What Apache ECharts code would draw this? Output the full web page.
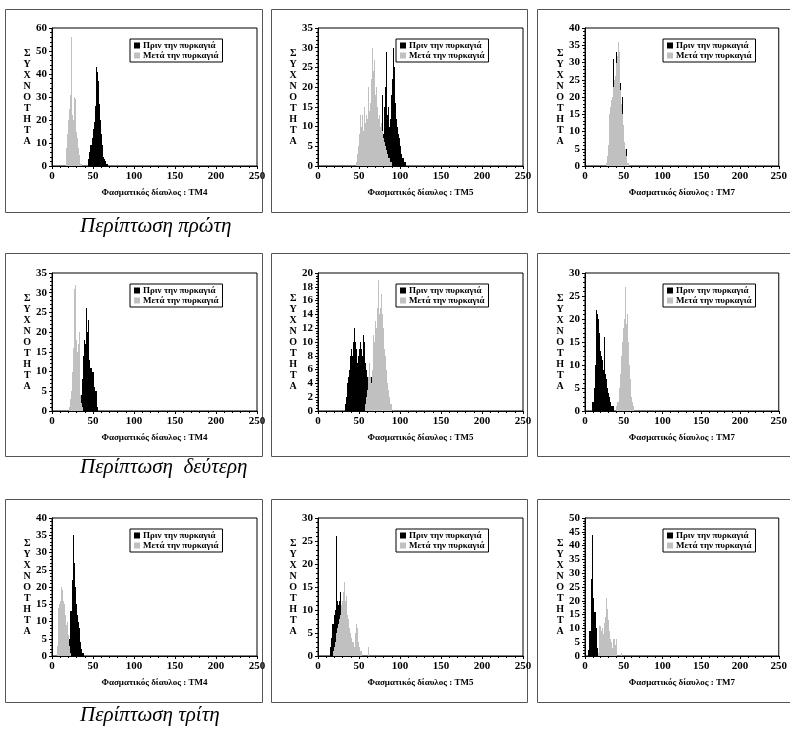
<!DOCTYPE html>
<html>
<head>
<meta charset="utf-8">
<script src="https://cdn.jsdelivr.net/npm/echarts@6/dist/echarts.min.js"></script>
<style>
  html, body { margin: 0; padding: 0; background: #fff; }
  #main { width: 790px; height: 729px; }
</style>
</head>
<body>
<div id="main"></div>
<script>
  // κανάλια / περιπτώσεις
  const bands = ['TM4', 'TM5', 'TM7'];
  const cases = ['Περίπτωση πρώτη', 'Περίπτωση  δεύτερη', 'Περίπτωση τρίτη'];
  const legendNames = ['Πριν την πυρκαγιά', 'Μετά την πυρκαγιά'];
  const yTitle = 'ΣΥΧΝΟΤΗΤΑ';

  // άξονες (σειρά: περίπτωση 1 TM4, TM5, TM7, περίπτωση 2 ..., περίπτωση 3 ...)
  const xMax = 250;
  const xStep = 50;
  const yMax = [60, 35, 40, 35, 20, 30, 40, 30, 50];
  const yStep = [10, 5, 5, 5, 2, 5, 5, 5, 5];

  // Περίπτωση πρώτη
  const c1_tm4_before_from = 44;
  const c1_tm4_before = [1, 3, 6, 9, 9, 12, 15, 16, 19, 26, 43, 41, 37, 28, 27, 20, 14, 9, 6, 4, 3, 2, 1, 1, 1];
  const c1_tm4_after_from = 17;
  const c1_tm4_after = [2, 8, 14, 20, 25, 31, 30, 56, 22, 20, 30, 29, 20, 15, 12, 8, 5, 3, 1, 1];

  const c1_tm5_before_from = 70;
  const c1_tm5_before = [1, 2, 3, 4, 5, 6, 7, 8, 12, 18, 8, 15, 20, 14, 29, 13, 15, 10, 12, 18, 13, 22, 30, 25, 16, 14, 12, 10, 8, 7, 5, 4, 3, 2, 2, 1, 1];
  const c1_tm5_after_from = 47;
  const c1_tm5_after = [1, 3, 5, 8, 6, 13, 10, 13, 9, 12, 15, 11, 13, 12, 17, 20, 14, 16, 22, 30, 19, 24, 27, 18, 20, 15, 14, 12, 13, 10, 11, 9, 8, 7, 6, 5, 4, 3, 3, 2, 2, 1, 1, 1];

  const c1_tm7_before_from = 30;
  const c1_tm7_before = [2, 4, 7, 10, 13, 16, 20, 31, 24, 26, 25, 33, 30, 28, 22, 20, 24, 17, 20, 10, 8, 6, 4, 3, 5, 1];
  const c1_tm7_after_from = 28;
  const c1_tm7_after = [1, 3, 6, 10, 15, 17, 19, 20, 22, 23, 25, 26, 28, 30, 32, 36, 33, 28, 22, 18, 15, 12, 9, 7, 5, 3, 2, 1, 1];

  // Περίπτωση δεύτερη
  const c2_tm4_before_from = 33;
  const c2_tm4_before = [1, 2, 3, 4, 8, 14, 15, 18, 17, 26, 20, 23, 16, 13, 11, 11, 10, 10, 8, 6, 5, 5, 1];
  const c2_tm4_after_from = 21;
  const c2_tm4_after = [1, 1, 3, 5, 10, 16, 31, 30, 32, 18, 15, 17, 20, 8, 4, 2, 1];

  const c2_tm5_before_from = 34;
  const c2_tm5_before = [1, 2, 4, 5, 6, 7, 8, 9, 8, 10, 11, 12, 10, 9, 7, 8, 9, 8, 10, 9, 8, 11, 10, 8, 7, 6, 5, 4, 3, 3, 4, 5, 2, 1];
  const c2_tm5_after_from = 58;
  const c2_tm5_after = [1, 2, 3, 4, 5, 7, 5, 4, 6, 8, 11, 10, 13, 12, 13, 15, 19, 14, 15, 17, 14, 11, 12, 9, 8, 6, 5, 4, 3, 2, 1, 1];

  const c2_tm7_before_from = 10;
  const c2_tm7_before = [2, 2, 5, 7, 10, 22, 21, 20, 17, 15, 13, 12, 11, 10, 9, 16, 8, 7, 6, 5, 4, 3, 2, 2, 1, 1, 1, 1];
  const c2_tm7_after_from = 41;
  const c2_tm7_after = [1, 2, 2, 3, 5, 8, 12, 15, 16, 18, 20, 27, 16, 19, 21, 15, 10, 7, 5, 3, 2, 1, 1];

  // Περίπτωση τρίτη
  const c3_tm4_before_from = 20;
  const c3_tm4_before = [2, 5, 12, 13, 13, 22, 35, 27, 20, 15, 15, 12, 10, 8, 6, 4, 2, 1, 1];
  const c3_tm4_after_from = 7;
  const c3_tm4_after = [3, 14, 15, 16, 18, 20, 19, 16, 15, 12, 9, 8, 10, 6, 3, 1];

  const c3_tm5_before_from = 15;
  const c3_tm5_before = [2, 4, 4, 7, 7, 9, 10, 26, 18, 12, 11, 12, 14, 10, 5, 2];
  const c3_tm5_after_from = 19;
  const c3_tm5_after = [1, 2, 3, 4, 5, 6, 7, 8, 9, 10, 11, 12, 14, 16, 12, 11, 13, 9, 8, 6, 5, 5, 4, 3, 3, 2, 2, 5, 7, 6, 3, 2, 1, 1, 1, 0, 0, 0, 0, 0, 0, 0, 2];

  const c3_tm7_before_from = 5;
  const c3_tm7_before = [2, 9, 9, 28, 44, 30, 21, 16, 16, 10, 10, 3, 1];
  const c3_tm7_after_from = 17;
  const c3_tm7_after = [1, 2, 11, 11, 9, 10, 7, 8, 12, 14, 21, 17, 17, 13, 9, 9, 6, 5, 3, 6, 3, 6, 4, 6, 2, 0, 0, 0, 0, 0, 1];

  const panels = [
    [c1_tm4_before_from, c1_tm4_before, c1_tm4_after_from, c1_tm4_after],
    [c1_tm5_before_from, c1_tm5_before, c1_tm5_after_from, c1_tm5_after],
    [c1_tm7_before_from, c1_tm7_before, c1_tm7_after_from, c1_tm7_after],
    [c2_tm4_before_from, c2_tm4_before, c2_tm4_after_from, c2_tm4_after],
    [c2_tm5_before_from, c2_tm5_before, c2_tm5_after_from, c2_tm5_after],
    [c2_tm7_before_from, c2_tm7_before, c2_tm7_after_from, c2_tm7_after],
    [c3_tm4_before_from, c3_tm4_before, c3_tm4_after_from, c3_tm4_after],
    [c3_tm5_before_from, c3_tm5_before, c3_tm5_after_from, c3_tm5_after],
    [c3_tm7_before_from, c3_tm7_before, c3_tm7_after_from, c3_tm7_after]
  ];

  const colLeft = [52, 318, 585];
  const rowTop = [28, 273, 518];
  const plotW = 205, plotH = 138;
  const boxX = [5, 271, 537];
  const boxW = [257, 256, 260];
  const boxY = [9, 253, 499];
  const boxH = 203;
  const font = 'Liberation Serif';
  const colors = ['#000000', '#c0c0c0'];

  const toPairs = (from, arr) => arr.map((v, i) => [from + i, v]).filter(d => d[1] > 0);

  // ιστόγραμμα: κάθε ψηφιακή τιμή καλύπτει [x-0.5, x+0.5], στρογγυλεμένο σε ακέραια pixel
  function histItem(color) {
    return function (params, api) {
      const x = api.value(0), y = api.value(1);
      const a = api.coord([x - 0.5, y]);
      const b = api.coord([x + 0.5, 0]);
      const x0 = Math.round(a[0]);
      const x1 = Math.max(Math.round(b[0]), x0 + 1);
      const y0 = Math.round(a[1]);
      const y1 = Math.round(b[1]);
      return {
        type: 'rect',
        shape: { x: x0, y: y0, width: x1 - x0, height: y1 - y0 },
        style: { fill: color }
      };
    };
  }

  const grid = [], xAxis = [], yAxis = [], series = [], legend = [], title = [], graphic = [];

  panels.forEach((p, k) => {
    const r = Math.floor(k / 3), c = k % 3;
    grid.push({
      left: colLeft[c], top: rowTop[r], width: plotW, height: plotH,
      show: true, borderColor: '#000', borderWidth: 1, backgroundColor: '#fff'
    });
    xAxis.push({
      type: 'value', gridIndex: k, min: 0, max: xMax, interval: xStep,
      name: 'Φασματικός δίαυλος : ' + bands[c],
      nameLocation: 'middle', nameGap: 22,
      nameTextStyle: { fontFamily: font, fontSize: 9, fontWeight: 'bold', color: '#000' },
      axisLine: { lineStyle: { color: '#000' } },
      axisTick: { length: 3, lineStyle: { color: '#000' } },
      minorTick: { show: true, splitNumber: 5, length: 2, lineStyle: { color: '#000' } },
      splitLine: { show: false },
      axisLabel: { fontFamily: font, fontSize: 11, fontWeight: 'bold', color: '#000', margin: 5 }
    });
    yAxis.push({
      type: 'value', gridIndex: k, min: 0, max: yMax[k], interval: yStep[k],
      name: yTitle.split('').join('\n'),
      nameLocation: 'middle', nameRotate: 0, nameGap: 23,
      nameTextStyle: { fontFamily: font, fontSize: 10, fontWeight: 'bold', color: '#000',
        lineHeight: 11, align: 'center', verticalAlign: 'middle' },
      axisLine: { show: true, lineStyle: { color: '#000' } },
      axisTick: { show: true, length: 3, lineStyle: { color: '#000' } },
      minorTick: { show: true, splitNumber: 5, length: 2, lineStyle: { color: '#000' } },
      splitLine: { show: false },
      axisLabel: { fontFamily: font, fontSize: 11, fontWeight: 'bold', color: '#000', margin: 5 }
    });
    [[p[0], p[1]], [p[2], p[3]]].forEach((s, j) => {
      series.push({
        name: legendNames[j], type: 'custom', xAxisIndex: k, yAxisIndex: k,
        data: toPairs(s[0], s[1]),
        renderItem: histItem(colors[j]),
        encode: { x: 0, y: 1 },
        clip: true, silent: true, z: 2 + j,
        itemStyle: { color: colors[j] }
      });
    });
    legend.push({
      data: legendNames, orient: 'vertical',
      left: colLeft[c] + 78, top: rowTop[r] + 11,
      borderColor: '#000', borderWidth: 1, backgroundColor: '#fff',
      padding: [2, 4], itemGap: 1, itemWidth: 6, itemHeight: 6,
      icon: 'rect', selectedMode: false,
      textStyle: { fontFamily: font, fontSize: 9, fontWeight: 'bold', color: '#000', padding: [0, 0, 0, -2] }
    });
    graphic.push({
      type: 'rect', silent: true, z: -1,
      shape: { x: boxX[c] + 0.5, y: boxY[r] + 0.5, width: boxW[c], height: boxH },
      style: { fill: 'none', stroke: '#555', lineWidth: 1 }
    });
  });

  const captionTop = [216, 457, 705];
  cases.forEach((t, r) => {
    title.push({
      text: t, left: 80, top: captionTop[r], padding: 0,
      textStyle: { fontFamily: font, fontStyle: 'italic', fontWeight: 'normal', fontSize: 21, color: '#000' }
    });
  });

  const chart = echarts.init(document.getElementById('main'));
  chart.setOption({
    animation: false,
    backgroundColor: '#fff',
    title, grid, xAxis, yAxis, series, legend, graphic
  });

  window.addEventListener('resize', function () {
    chart.resize();
  });
</script>
</body>
</html>
